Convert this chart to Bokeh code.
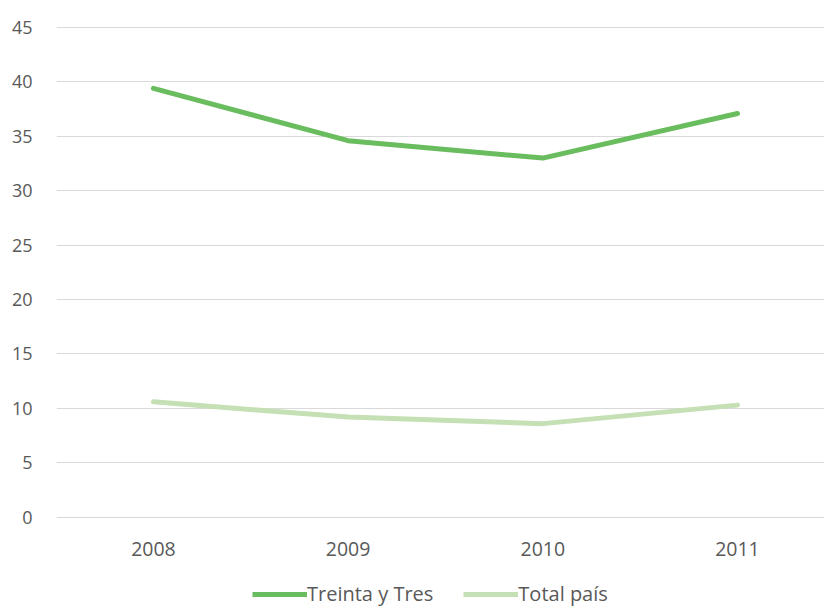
from bokeh.plotting import figure
from bokeh.layouts import column
from bokeh.models import Range1d, FixedTicker, Legend, LegendItem
from bokeh.embed import file_html
from bokeh.resources import INLINE

years = ["2008", "2009", "2010", "2011"]
treinta_y_tres = [39.4, 34.6, 33.0, 37.1]
total_pais = [10.6, 9.2, 8.6, 10.3]
y_ticks = [0, 5, 10, 15, 20, 25, 30, 35, 40, 45]
series_names = ["Treinta y Tres", "Total país"]
series_colors = ["#6abd5e", "#c5e0b4"]

x = list(range(len(years)))
font = "Open Sans"

p = figure(width=824, height=577, output_backend="svg", toolbar_location=None,
           x_range=Range1d(-0.498, 3.447), y_range=Range1d(-0.3, 45.64),
           min_border_left=56, min_border_right=0, min_border_top=20,
           min_border_bottom=57)
p.outline_line_color = None
p.background_fill_color = "white"
p.border_fill_color = "white"

for ax in (p.xaxis, p.yaxis):
    ax.axis_line_color = None
    ax.major_tick_line_color = None
    ax.minor_tick_line_color = None
    ax.major_label_text_font = font
    ax.major_label_text_color = "#595959"

p.xaxis.major_label_text_font_size = "19.5px"
p.yaxis.major_label_text_font_size = "18px"
p.xaxis.ticker = FixedTicker(ticks=x)
p.xaxis.major_label_overrides = {i: y for i, y in enumerate(years)}
p.xaxis.major_label_standoff = 15
p.yaxis.ticker = FixedTicker(ticks=y_ticks)
p.yaxis.major_label_standoff = 18

p.xgrid.grid_line_color = None
p.ygrid.ticker = FixedTicker(ticks=y_ticks)
p.ygrid.grid_line_color = "#d9d9d9"
p.ygrid.grid_line_width = 1

p.line(x, treinta_y_tres, line_color=series_colors[0], line_width=5, line_cap="round", line_join="round")
p.line(x, total_pais, line_color=series_colors[1], line_width=5, line_cap="round", line_join="round")

# legend strip below the chart (legend glyphs use off-canvas proxy lines)
pl = figure(width=824, height=30, output_backend="svg", toolbar_location=None,
            x_range=Range1d(0, 1), y_range=Range1d(0, 1),
            x_axis_type=None, y_axis_type=None,
            min_border_left=56, min_border_right=0, min_border_top=0, min_border_bottom=0)
pl.outline_line_color = None
pl.xgrid.visible = False
pl.ygrid.visible = False
proxy = [pl.line([5, 6], [5, 6], line_color=c, line_width=5) for c in series_colors]

legend = Legend(items=[LegendItem(label=n, renderers=[r]) for n, r in zip(series_names, proxy)],
                orientation="horizontal", location=(196, 0),
                glyph_width=55, label_standoff=0, spacing=30,
                label_text_font=font, label_text_font_size="20px",
                label_text_color="#595959", border_line_color=None,
                background_fill_alpha=0, padding=0, margin=0)
pl.add_layout(legend, "center")

open("out.html", "w").write(file_html(column(p, pl, spacing=0), INLINE))
